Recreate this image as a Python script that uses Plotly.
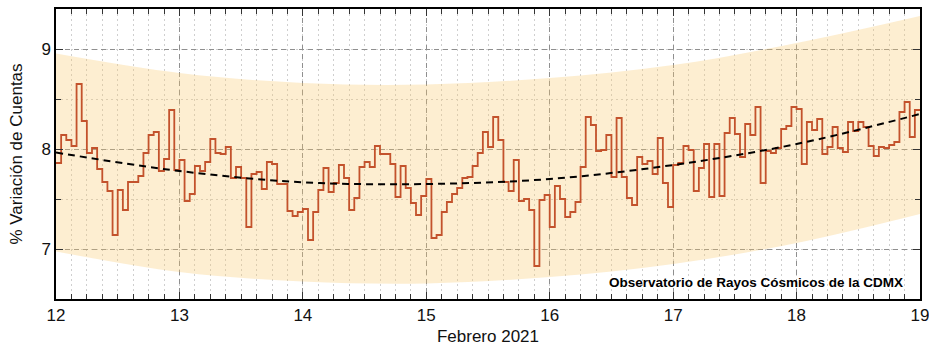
import pandas as pd
import plotly.graph_objects as go

# Hourly % count variation, 12-18 Feb 2021 (24 values per day)
day12 = [7.86, 8.14, 8.09, 8.03, 8.65, 8.28, 7.96, 8.01, 7.80, 7.67, 7.58, 7.14,
         7.59, 7.39, 7.67, 7.67, 7.73, 7.96, 8.14, 8.17, 7.78, 7.90, 8.39, 7.79]
day13 = [7.89, 7.48, 7.55, 7.83, 7.78, 7.87, 8.10, 7.96, 7.95, 8.02, 7.71, 7.82,
         7.71, 7.22, 7.75, 7.77, 7.60, 7.87, 7.85, 7.65, 7.65, 7.38, 7.33, 7.37]
day14 = [7.40, 7.09, 7.37, 7.59, 7.81, 7.57, 7.66, 7.84, 7.71, 7.39, 7.51, 7.82,
         7.87, 7.82, 8.03, 7.95, 7.95, 7.85, 7.52, 7.83, 7.61, 7.46, 7.34, 7.53]
day15 = [7.70, 7.11, 7.14, 7.37, 7.47, 7.55, 7.61, 7.71, 7.72, 7.83, 7.96, 8.17,
         8.02, 8.32, 8.09, 7.67, 7.58, 7.89, 7.48, 7.50, 7.39, 6.83, 7.49, 7.54]
day16 = [7.22, 7.63, 7.50, 7.32, 7.37, 7.47, 7.82, 8.32, 8.24, 7.98, 7.99, 8.14,
         7.72, 8.31, 7.72, 7.51, 7.44, 7.92, 7.85, 7.88, 7.75, 8.11, 7.66, 7.42]
day17 = [7.84, 7.86, 8.03, 7.99, 7.58, 7.81, 8.05, 7.52, 8.05, 7.53, 8.16, 8.31,
         8.15, 7.92, 8.25, 8.14, 8.42, 7.66, 7.98, 7.96, 8.01, 8.20, 8.23, 8.42]
day18 = [8.40, 7.85, 8.27, 8.19, 8.30, 7.95, 8.02, 8.22, 8.01, 7.97, 8.27, 8.18,
         8.27, 8.22, 8.03, 7.93, 8.02, 8.01, 8.04, 8.07, 8.37, 8.47, 8.12, 8.39]

# Trend curve and band read at each day boundary
trend_days = ["2021-02-12", "2021-02-13", "2021-02-14", "2021-02-15",
              "2021-02-16", "2021-02-17", "2021-02-18", "2021-02-19"]
trend_vals = [7.965, 7.78, 7.667, 7.65, 7.70, 7.84, 8.05, 8.35]
band_upper = [8.955, 8.76, 8.66, 8.645, 8.71, 8.84, 9.06, 9.33]
band_lower = [6.975, 6.77, 6.675, 6.655, 6.72, 6.85, 7.06, 7.35]

x_tick_labels = ["12", "13", "14", "15", "16", "17", "18", "19"]
y_tick_vals = [7, 8, 9]

values = day12 + day13 + day14 + day15 + day16 + day17 + day18
times = pd.date_range("2021-02-12 00:00", periods=len(values) + 1, freq="h")
step_y = values + [values[-1]]

FONT = "Liberation Sans, Arial, sans-serif"

fig = go.Figure()
fig.add_trace(go.Scatter(x=trend_days, y=band_lower, mode="lines",
                         line=dict(width=0, shape="spline"), hoverinfo="skip",
                         showlegend=False))
fig.add_trace(go.Scatter(x=trend_days, y=band_upper, mode="lines",
                         line=dict(width=0, shape="spline"), fill="tonexty",
                         fillcolor="rgba(250,200,105,0.31)", hoverinfo="skip",
                         showlegend=False))
fig.add_trace(go.Scatter(x=times, y=step_y, mode="lines",
                         line=dict(color="#C3522C", width=1.8, shape="hv"),
                         showlegend=False))
fig.add_trace(go.Scatter(x=trend_days, y=trend_vals, mode="lines",
                         line=dict(color="black", width=2, shape="spline",
                                   dash="7px,5px"),
                         showlegend=False))

fig.add_annotation(text="<b>Observatorio de Rayos Cósmicos de la CDMX</b>",
                   xref="paper", yref="paper", x=0.983, y=0.058,
                   xanchor="right", yanchor="middle", showarrow=False,
                   font=dict(family=FONT, size=13.5, color="black"))

axis_common = dict(
    showline=True, linecolor="black", linewidth=1.5, mirror="allticks",
    ticks="inside", ticklen=7, tickwidth=1.2, tickcolor="#333",
    showgrid=True, gridcolor="#8f8f8f", gridwidth=1, griddash="5px,4px",
    zeroline=False, automargin=False, ticklabeloverflow="allow",
    tickfont=dict(family=FONT, size=17, color="#111"),
)

fig.update_xaxes(
    **axis_common,
    type="date",
    range=["2021-02-12", "2021-02-19"],
    tickmode="array", tickvals=trend_days, ticktext=x_tick_labels,
    minor=dict(dtick=3 * 3600 * 1000, tick0="2021-02-12", ticks="inside",
               ticklen=5, tickwidth=1, tickcolor="#333", showgrid=True,
               gridcolor="#cfcfcf", griddash="2px,3px", gridwidth=1),
    title=dict(text="Febrero 2021", font=dict(family=FONT, size=17, color="#111"),
               standoff=6),
)
fig.update_yaxes(
    **axis_common,
    range=[6.5, 9.4],
    tickmode="array", tickvals=y_tick_vals,
    minor=dict(dtick=0.5, tick0=6.5, ticks="inside", ticklen=5, tickwidth=1,
               tickcolor="#333", showgrid=True, gridcolor="#cfcfcf",
               griddash="2px,3px", gridwidth=1),
    title=dict(text="% Variación de Cuentas",
               font=dict(family=FONT, size=17, color="#111"), standoff=14),
)

fig.update_layout(
    width=929, height=352,
    margin=dict(l=56, r=9, t=9, b=53),
    paper_bgcolor="white", plot_bgcolor="white",
    font=dict(family=FONT, size=17, color="#111"),
)

fig.write_html("out.html")
